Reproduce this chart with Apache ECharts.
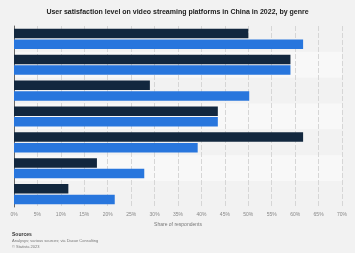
<!DOCTYPE html>
<html>
<head>
<meta charset="utf-8">
<script src="https://cdn.jsdelivr.net/npm/echarts@6/dist/echarts.min.js"></script>
<style>
  html, body { margin: 0; padding: 0; background: #f2f2f2; }
  #chart { width: 355px; height: 253px; }
</style>
</head>
<body>
<div id="chart"></div>
<script>
// genres (labels are not shown on the chart)
var genres = ["Genre 1", "Genre 2", "Genre 3", "Genre 4", "Genre 5", "Genre 6", "Genre 7"];
var seriesDark = [50, 59, 29, 43.5, 61.7, 17.7, 11.6];
var seriesBlue = [61.7, 59, 50.2, 43.5, 39.2, 27.8, 21.5];
var xTicksMax = 70;

var chart = echarts.init(document.getElementById("chart"));

var option = {
  backgroundColor: "#f2f2f2",
  textStyle: { fontFamily: "Liberation Sans, Arial, sans-serif" },
  title: {
    text: "User satisfaction level on video streaming platforms in China in 2022, by genre",
    left: "center",
    top: 4,
    textStyle: { fontSize: 7, fontWeight: "bold", color: "#222" },
  },
  grid: { left: 14, right: 13, top: 26, bottom: 46 },
  xAxis: {
    type: "value",
    min: 0,
    max: xTicksMax,
    interval: 5,
    name: "Share of respondents",
    nameLocation: "middle",
    nameGap: 13,
    nameTextStyle: { fontSize: 5, color: "#777" },
    axisLine: { show: false },
    axisTick: { show: false },
    axisLabel: { formatter: "{value}%", fontSize: 5, color: "#888", margin: 5 },
    splitLine: {
      show: true,
      lineStyle: { color: "#d6d6d6", type: [5, 2], width: 1 },
    },
  },
  yAxis: {
    type: "category",
    inverse: true,
    data: genres,
    axisLine: { show: true, lineStyle: { color: "#666", width: 1 } },
    axisTick: { show: false },
    axisLabel: { show: false },
    splitArea: { show: true, areaStyle: { color: ["#f2f2f2", "#f8f8f8"] } },
  },
  series: [
    {
      name: "Dark",
      type: "bar",
      data: seriesDark,
      barWidth: 9.5,
      barGap: "12%",
      itemStyle: { color: "#12273e" },
    },
    {
      name: "Blue",
      type: "bar",
      data: seriesBlue,
      barWidth: 9.5,
      itemStyle: { color: "#2876dd" },
    },
  ],
  graphic: [
    {
      type: "text",
      left: 12,
      top: 232,
      style: { text: "Sources", font: "bold 5px Liberation Sans, Arial", fill: "#333" },
    },
    {
      type: "text",
      left: 12,
      top: 239,
      style: { text: "Analysys; various sources; via Daxue Consulting", font: "4px Liberation Sans, Arial", fill: "#777" },
    },
    {
      type: "text",
      left: 12,
      top: 245,
      style: { text: "© Statista 2023", font: "4px Liberation Sans, Arial", fill: "#777" },
    },
  ],
};

option && chart.setOption(option);
</script>
</body>
</html>
